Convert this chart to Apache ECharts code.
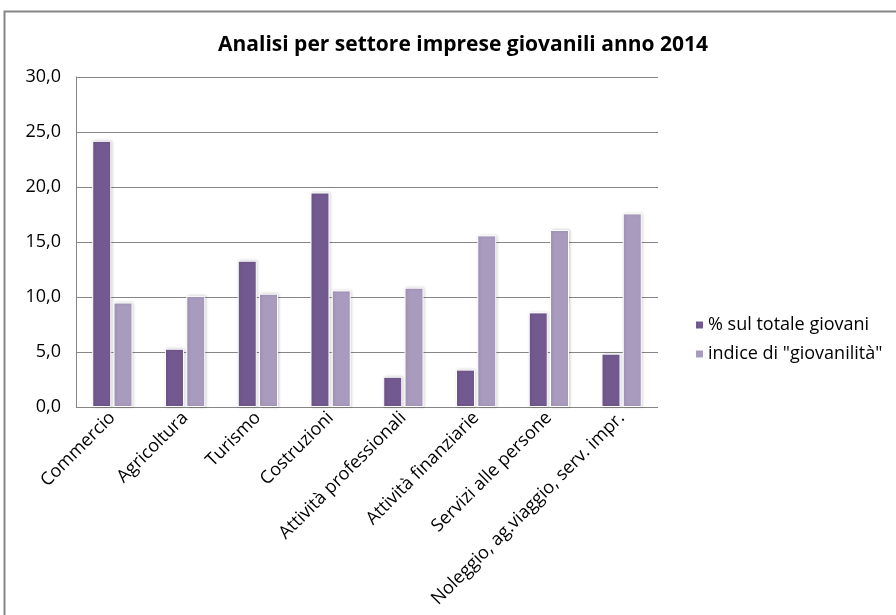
<!DOCTYPE html>
<html>
<head>
<meta charset="utf-8">
<script src="https://cdn.jsdelivr.net/npm/echarts@6/dist/echarts.min.js"></script>
<style>html,body{margin:0;padding:0;background:#fff;}#c{width:896px;height:615px;}</style>
</head>
<body>
<div id="c"></div>
<script>
const categories = ["Commercio","Agricoltura","Turismo","Costruzioni","Attività professionali","Attività finanziarie","Servizi alle persone","Noleggio, ag.viaggio, serv. impr."];
const seriesNames = ["% sul totale giovani","indice di \"giovanilità\""];
const quotaGiovani = [24.2, 5.3, 13.3, 19.5, 2.75, 3.4, 8.6, 4.85];
const indiceGiovanilita = [9.5, 10.1, 10.3, 10.6, 10.85, 15.6, 16.1, 17.6];
const yTicks = [0, 5, 10, 15, 20, 25, 30];

const font = "'Open Sans', 'Noto Sans', sans-serif";
const chart = echarts.init(document.getElementById('c'), null, {renderer:'canvas'});
const barStyle = (color) => ({
  color: color,
  borderColor: '#ffffff',
  borderWidth: 1,
  shadowColor: 'rgba(0,0,0,0.18)',
  shadowBlur: 3,
  shadowOffsetX: 1,
  shadowOffsetY: 0
});
chart.setOption({
  animation: false,
  backgroundColor: '#ffffff',
  graphic: [{
    type: 'rect', silent: true,
    shape: {x: 4.5, y: 11.5, width: 900, height: 620},
    style: {fill: 'none', stroke: '#868686', lineWidth: 2}
  }],
  title: {
    text: 'Analisi per settore imprese giovanili anno 2014',
    left: 458, top: 30, textAlign: 'center',
    textStyle: {fontFamily: font, fontSize: 21, fontWeight: 'bold', color: '#000'}
  },
  legend: {
    orient: 'vertical',
    left: 689, top: 311,
    itemWidth: 9, itemHeight: 9, itemGap: 11,
    icon: 'rect',
    data: seriesNames,
    textStyle: {fontFamily: font, fontSize: 18, color: '#000', padding: [0,0,0,-1]}
  },
  grid: {left: 76, right: 238, top: 77, bottom: 208},
  xAxis: {
    type: 'category',
    data: categories,
    axisLine: {show: false},
    axisTick: {show: false},
    axisLabel: {rotate: 45, interval: 0, margin: 8, fontFamily: font, fontSize: 18, color: '#000'}
  },
  yAxis: {
    type: 'value',
    min: yTicks[0], max: yTicks[yTicks.length-1], interval: 5,
    axisLine: {show: true, lineStyle: {color: '#868686', width: 1}},
    axisTick: {show: false},
    splitLine: {show: true, lineStyle: {color: '#868686', width: 1}},
    axisLabel: {margin: 15, fontFamily: font, fontSize: 18, color: '#000',
      formatter: v => v.toFixed(1).replace('.', ',')}
  },
  series: [
    {name: seriesNames[0], type: 'bar', data: quotaGiovani, barWidth: 19, barGap: '12%', itemStyle: barStyle('#72598F')},
    {name: seriesNames[1], type: 'bar', data: indiceGiovanilita, barWidth: 19, barGap: '12%', itemStyle: barStyle('#A99BBE')}
  ]
});
</script>
</body>
</html>
